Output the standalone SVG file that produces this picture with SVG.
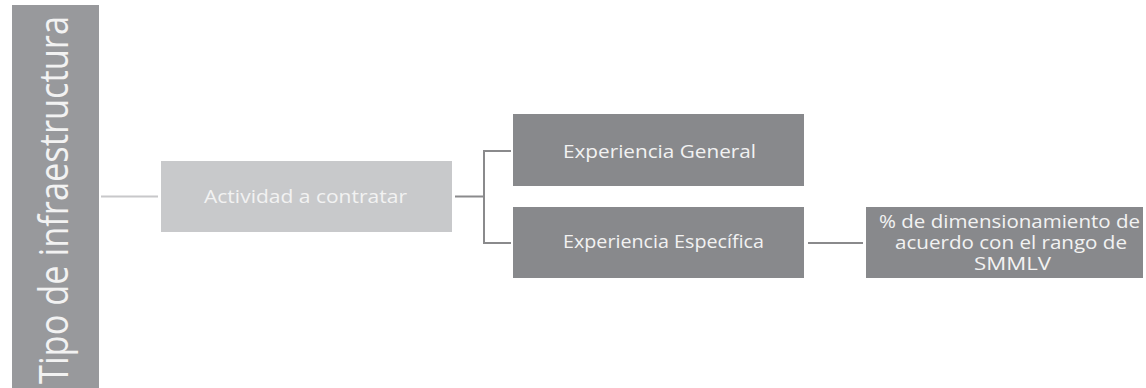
<svg xmlns="http://www.w3.org/2000/svg" width="1146" height="388" viewBox="0 0 1146 388">
<style>
.t{font-family:"Open Sans","Liberation Sans",sans-serif;fill:#f2f2f2;text-anchor:middle;font-size:18px}
.dark{fill:#88898c}
.conn{fill:none;stroke:#8a8a8c;stroke-width:2}
</style>
<rect width="1146" height="388" fill="#ffffff"/>
<g id="tipo">
<rect x="12" y="5" width="87" height="383" fill="#98999c"/>
<text class="t" transform="translate(68,200) rotate(-90)" style="font-size:40px" textLength="368" lengthAdjust="spacingAndGlyphs">Tipo de infraestructura</text>
</g>
<g id="connectors">
<line x1="101" y1="196.5" x2="158" y2="196.5" stroke="#c8c8ca" stroke-width="2"/>
<line x1="455" y1="196.5" x2="484" y2="196.5" class="conn"/>
<polyline points="511,151 484,151 484,243 511,243" class="conn"/>
<line x1="808" y1="243" x2="863" y2="243" class="conn"/>
</g>
<g id="actividad">
<rect x="161" y="161" width="291" height="71" fill="#c8c9cb"/>
<text class="t" x="305.5" y="203" textLength="203" lengthAdjust="spacingAndGlyphs">Actividad a contratar</text>
</g>
<g id="general">
<rect x="513" y="114" width="291" height="72" class="dark"/>
<text class="t" x="659.5" y="158" textLength="193" lengthAdjust="spacingAndGlyphs">Experiencia General</text>
</g>
<g id="especifica">
<rect x="513" y="207" width="291" height="71" class="dark"/>
<text class="t" x="663.5" y="248" textLength="201" lengthAdjust="spacingAndGlyphs">Experiencia Específica</text>
</g>
<g id="smmlv">
<rect x="866" y="207" width="277" height="71" class="dark"/>
<text class="t" x="1009.5" y="228" textLength="261" lengthAdjust="spacingAndGlyphs">% de dimensionamiento de</text>
<text class="t" x="1011" y="249" textLength="232" lengthAdjust="spacingAndGlyphs">acuerdo con el rango de</text>
<text class="t" x="1012.5" y="270" textLength="77" lengthAdjust="spacingAndGlyphs">SMMLV</text>
</g>
</svg>
